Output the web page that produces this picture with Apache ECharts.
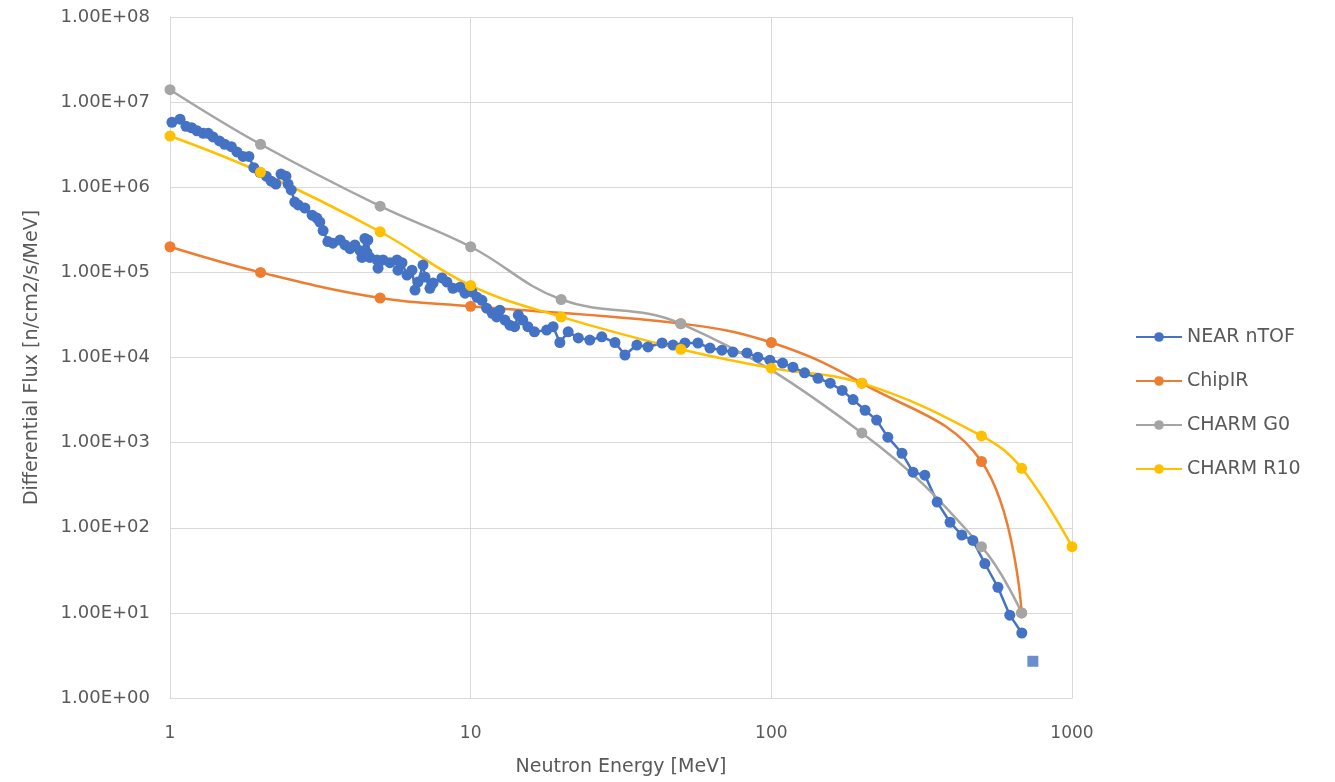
<!DOCTYPE html>
<html>
<head>
<meta charset="utf-8">
<title>Neutron flux spectra</title>
<script src="https://cdn.jsdelivr.net/npm/echarts@6/dist/echarts.min.js"></script>
<style>
  html, body { margin: 0; padding: 0; background: #fff; }
  #chart { width: 1335px; height: 782px; }
</style>
</head>
<body>
<div id="chart"></div>
<script>
// energy [MeV], flux [n/cm2/s/MeV]
var nearNtof = [
  [1.015, 5.8e6], [1.08, 6.3e6], [1.13, 5.2e6], [1.18, 5.0e6], [1.23, 4.6e6],
  [1.29, 4.3e6], [1.34, 4.3e6], [1.39, 3.9e6], [1.46, 3.5e6], [1.52, 3.2e6],
  [1.60, 3.0e6], [1.67, 2.6e6], [1.75, 2.3e6], [1.83, 2.3e6], [1.90, 1.7e6],
  [1.99, 1.5e6], [2.09, 1.35e6], [2.17, 1.18e6], [2.25, 1.09e6], [2.34, 1.43e6],
  [2.43, 1.35e6], [2.47, 1.09e6], [2.53, 9.3e5], [2.60, 6.7e5], [2.67, 6.2e5],
  [2.81, 5.7e5], [2.97, 4.7e5], [3.08, 4.35e5], [3.15, 3.9e5], [3.23, 3.1e5],
  [3.35, 2.3e5], [3.48, 2.2e5], [3.68, 2.4e5], [3.82, 2.1e5], [3.97, 1.9e5],
  [4.12, 2.1e5], [4.29, 1.8e5], [4.35, 1.5e5], [4.45, 2.5e5], [4.52, 1.7e5],
  [4.55, 2.4e5], [4.62, 1.5e5], [4.88, 1.4e5], [4.92, 1.12e5], [5.11, 1.4e5],
  [5.39, 1.3e5], [5.69, 1.4e5], [5.73, 1.06e5], [5.91, 1.3e5], [6.14, 9.3e4],
  [6.38, 1.06e5], [6.53, 6.2e4], [6.68, 7.7e4], [6.94, 1.22e5], [7.05, 8.8e4],
  [7.32, 6.5e4], [7.50, 7.5e4], [8.03, 8.6e4], [8.34, 7.7e4], [8.73, 6.5e4],
  [9.22, 6.7e4], [9.58, 5.7e4], [10.1, 5.9e4], [10.5, 5.1e4], [10.9, 4.7e4],
  [11.3, 3.8e4], [11.8, 3.3e4], [12.2, 3.0e4], [12.5, 3.6e4], [13.0, 2.75e4],
  [13.5, 2.4e4], [14.0, 2.3e4], [14.4, 3.15e4], [14.9, 2.75e4], [15.5, 2.3e4],
  [16.3, 2.0e4], [17.9, 2.1e4], [18.8, 2.3e4], [19.8, 1.5e4], [21.1, 2.0e4],
  [22.8, 1.7e4], [24.9, 1.6e4], [27.3, 1.75e4], [30.2, 1.5e4], [32.6, 1.07e4],
  [35.7, 1.4e4], [38.9, 1.33e4], [43.3, 1.48e4], [47.1, 1.4e4], [51.6, 1.48e4],
  [57.0, 1.48e4], [62.5, 1.29e4], [68.5, 1.22e4], [74.5, 1.16e4], [83.0, 1.13e4],
  [90.2, 1.01e4], [98.9, 9.3e3], [109, 8.6e3], [118, 7.7e3], [129, 6.6e3],
  [143, 5.7e3], [157, 5.0e3], [172, 4.1e3], [187, 3.2e3], [205, 2.4e3],
  [224, 1.84e3], [244, 1.16e3], [272, 750], [296, 450], [324, 415],
  [356, 200], [393, 116], [430, 82], [468, 71], [513, 38],
  [567, 20], [621, 9.4], [681, 5.8]
];
var nearNtofTail = [[741, 2.7]];
var chipIR = [[1, 2e5], [2, 1e5], [5, 5e4], [10, 4e4], [50, 2.5e4], [100, 1.5e4], [200, 5e3], [500, 600], [680, 10]];
var charmG0 = [[1, 1.4e7], [2, 3.2e6], [5, 6e5], [10, 2e5], [20, 4.8e4], [50, 2.5e4], [200, 1.3e3], [500, 60], [680, 10]];
var charmR10 = [[1, 4e6], [2, 1.5e6], [5, 3e5], [10, 7e4], [20, 3e4], [50, 1.25e4], [100, 7.5e3], [200, 5e3], [500, 1.2e3], [680, 500], [1000, 60]];
var seriesNames = ['NEAR nTOF', 'ChipIR', 'CHARM G0', 'CHARM R10'];
var seriesColors = ['#4472C4', '#ED7D31', '#A5A5A5', '#FFC000'];

var myChart = echarts.init(document.getElementById('chart'));
var fontFamily = 'DejaVu Sans';
var textColor = '#595959';

function sciLabel(v) {
  var e = Math.round(Math.log10(v));
  var m = v / Math.pow(10, e);
  return m.toFixed(2) + 'E+' + (e < 10 ? '0' : '') + e;
}

function lineSeries(idx, data, smooth) {
  return {
    name: seriesNames[idx],
    type: 'line',
    data: data,
    smooth: smooth,
    symbol: 'circle',
    symbolSize: 11,
    color: seriesColors[idx],
    lineStyle: { width: 2.5, color: seriesColors[idx] },
    itemStyle: { color: seriesColors[idx] },
    emphasis: { disabled: true },
    animation: false
  };
}

var options = {
  backgroundColor: '#ffffff',
  grid: { left: 170, right: 263, top: 17, bottom: 84, containLabel: false },
  legend: {
    data: seriesNames,
    orient: 'vertical',
    left: 1130,
    top: 321,
    itemWidth: 46,
    itemHeight: 12,
    itemGap: 22,
    textStyle: { fontFamily: fontFamily, fontSize: 19, color: textColor, lineHeight: 22, padding: [0, 0, 0, 0] }
  },
  xAxis: {
    type: 'log',
    logBase: 10,
    min: 1,
    max: 1000,
    name: 'Neutron Energy [MeV]',
    nameLocation: 'middle',
    nameGap: 60,
    nameTextStyle: { fontFamily: fontFamily, fontSize: 19, color: textColor },
    axisLine: { show: true, lineStyle: { color: '#d9d9d9', width: 1 } },
    axisTick: { show: false },
    axisLabel: { fontFamily: fontFamily, fontSize: 17, color: textColor, margin: 27, formatter: function (v) { return String(v); } },
    splitLine: { show: true, lineStyle: { color: '#d9d9d9', width: 1 } },
    minorTick: { show: false },
    minorSplitLine: { show: false }
  },
  yAxis: {
    type: 'log',
    logBase: 10,
    min: 1,
    max: 1e8,
    splitNumber: 8,
    name: 'Differential Flux [n/cm2/s/MeV]',
    nameLocation: 'middle',
    nameGap: 128,
    nameTextStyle: { fontFamily: fontFamily, fontSize: 19, color: textColor },
    axisLine: { show: true, lineStyle: { color: '#d9d9d9', width: 1 } },
    axisTick: { show: false },
    axisLabel: { fontFamily: fontFamily, fontSize: 18, color: textColor, margin: 20, formatter: sciLabel },
    splitLine: { show: true, lineStyle: { color: '#d9d9d9', width: 1 } }
  },
  series: [
    lineSeries(0, nearNtof, false),
    {
      name: seriesNames[0],
      type: 'scatter',
      data: nearNtofTail,
      symbol: 'rect',
      symbolSize: 11,
      itemStyle: { color: seriesColors[0] },
      emphasis: { disabled: true },
      animation: false
    },
    lineSeries(1, chipIR, 0.4),
    lineSeries(2, charmG0, 0.4),
    lineSeries(3, charmR10, 0.4)
  ]
};
myChart.setOption(options);
</script>
</body>
</html>
